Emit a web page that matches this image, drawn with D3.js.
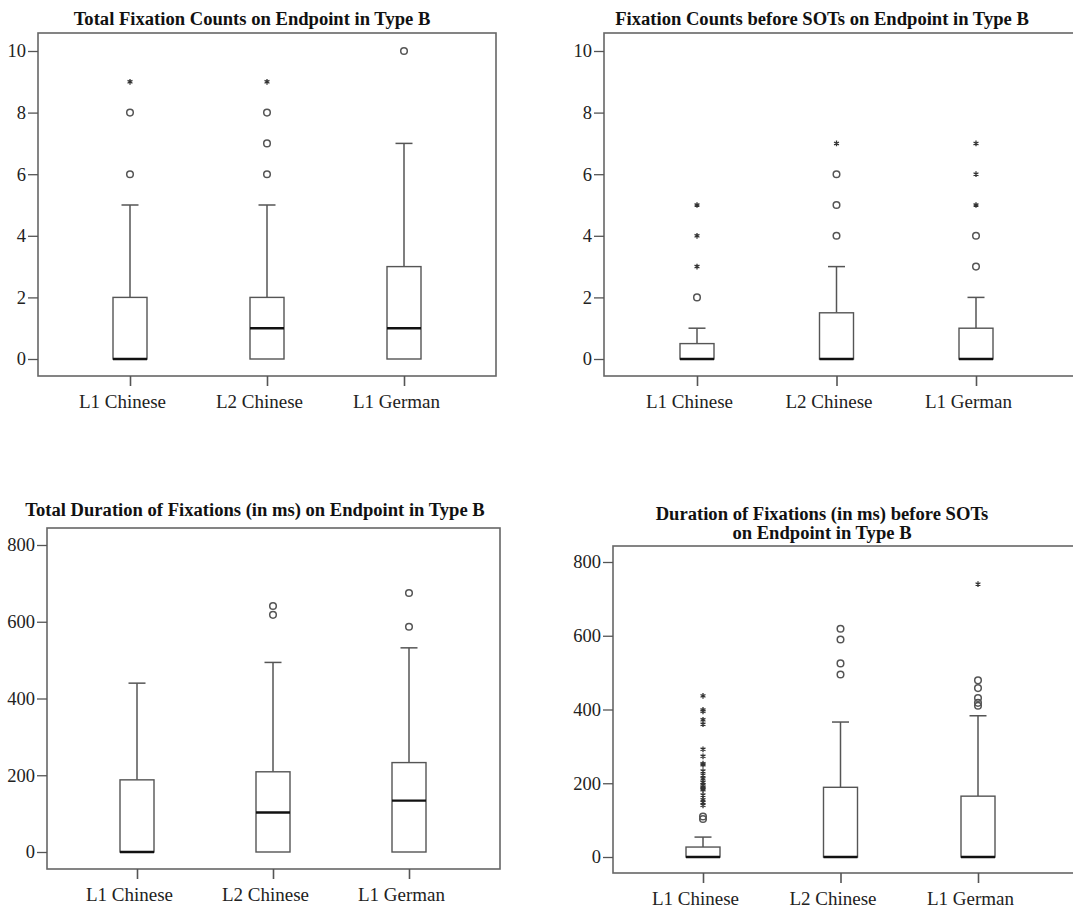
<!DOCTYPE html>
<html>
<head>
<meta charset="utf-8">
<script src="https://cdn.jsdelivr.net/npm/d3@7"></script>
<style>
  body { margin: 0; background: #fff; }
  svg { display: block; }
  text { font-family: "Liberation Serif", "Times New Roman", serif; }
</style>
</head>
<body>
<svg id="chart" width="1073" height="908"></svg>
<script>
// groups shown in every panel
const groups = ["L1 Chinese", "L2 Chinese", "L1 German"];

// box stats per group: [lowWhisker, q1, median, q3, highWhisker]
const totalCountBoxes = [[0, 0, 0, 2, 5], [0, 0, 1, 2, 5], [0, 0, 1, 3, 7]];
const totalCountCircles = [[6, 8], [6, 7, 8], [10]];
const totalCountStars = [[9], [9], []];

const sotCountBoxes = [[0, 0, 0, 0.5, 1], [0, 0, 0, 1.5, 3], [0, 0, 0, 1, 2]];
const sotCountCircles = [[2], [4, 5, 6], [3, 4]];
const sotCountStars = [[3, 4, 5], [7], [5, 6, 7]];

const totalDurBoxes = [[0, 0, 0, 188, 440], [0, 0, 103, 209, 494], [0, 0, 134, 233, 532]];
const totalDurCircles = [[], [618, 641], [587, 675]];
const totalDurStars = [[], [], []];

const sotDurBoxes = [[0, 0, 0, 27, 54], [0, 0, 0, 189, 366], [0, 0, 0, 165, 383]];
const sotDurCircles = [[103, 110], [495, 525, 590, 619], [410, 418, 431, 458, 479]];
const sotDurStars = [[140, 148, 155, 168, 182, 185, 190, 195, 202, 212, 222, 233, 250, 253, 273, 292, 360, 372, 395, 399, 437], [], [740]];

const countTicks = [0, 2, 4, 6, 8, 10];
const durTicks = [0, 200, 400, 600, 800];

const svg = d3.select("#chart");
const lineCol = "#555";

function drawPanel(p) {
    const g = svg.append("g");

    const y = d3.scaleLinear().domain(p.yDomain).range(p.yRange);
    const x = d3.scalePoint().domain(groups).range(p.xRange);

    // frame
    g.append("rect")
        .attr("x", p.frame[0]).attr("y", p.frame[1])
        .attr("width", p.frame[2] - p.frame[0])
        .attr("height", p.frame[3] - p.frame[1])
        .attr("fill", "none")
        .attr("stroke", "#666")
        .attr("stroke-width", 1.6);

    // axes
    const yAx = g.append("g")
        .attr("transform", `translate(${p.frame[0]},0)`)
        .call(d3.axisLeft(y).tickValues(p.ticks).tickSize(10).tickPadding(2).tickSizeOuter(0));
    yAx.select(".domain").remove();
    yAx.selectAll("line").attr("stroke", lineCol).attr("stroke-width", 1.3);
    yAx.selectAll("text").attr("font-size", 18.5).attr("fill", "#222")
        .attr("font-family", "Liberation Serif");

    const xAx = g.append("g")
        .attr("transform", `translate(0,${p.frame[3]})`)
        .call(d3.axisBottom(x).tickSize(10).tickPadding(9).tickSizeOuter(0));
    xAx.select(".domain").remove();
    xAx.selectAll("line").attr("stroke", lineCol).attr("stroke-width", 1.6);
    xAx.selectAll("text").attr("font-size", 19).attr("fill", "#222")
        .attr("dx", -8)
        .attr("font-family", "Liberation Serif");

    // boxes
    const bw = 34;
    p.boxes.forEach((b, i) => {
        const cx = x(groups[i]);
        const bg = g.append("g");
        // whiskers
        bg.append("line")
            .attr("x1", cx).attr("x2", cx)
            .attr("y1", y(b[3])).attr("y2", y(b[4]))
            .attr("stroke", lineCol).attr("stroke-width", 1.5);
        bg.append("line")
            .attr("x1", cx - bw / 4).attr("x2", cx + bw / 4)
            .attr("y1", y(b[4])).attr("y2", y(b[4]))
            .attr("stroke", lineCol).attr("stroke-width", 1.5);
        if (b[0] < b[1]) {
            bg.append("line")
                .attr("x1", cx).attr("x2", cx)
                .attr("y1", y(b[1])).attr("y2", y(b[0]))
                .attr("stroke", lineCol).attr("stroke-width", 1.5);
        }
        bg.append("rect")
            .attr("x", cx - bw / 2).attr("y", y(b[3]))
            .attr("width", bw).attr("height", Math.max(0, y(b[1]) - y(b[3])))
            .attr("fill", "#fff")
            .attr("stroke", lineCol).attr("stroke-width", 1.4);
        bg.append("line")
            .attr("x1", cx - bw / 2).attr("x2", cx + bw / 2)
            .attr("y1", y(b[2])).attr("y2", y(b[2]))
            .attr("stroke", "#111").attr("stroke-width", 2.4);

        // outliers
        bg.selectAll("circle.out")
            .data(p.circles[i])
            .join("circle")
            .attr("cx", cx).attr("cy", d => y(d))
            .attr("r", 3.3)
            .attr("fill", "none")
            .attr("stroke", "#555")
            .attr("stroke-width", 1.5);
        bg.selectAll("path.star")
            .data(p.stars[i])
            .join("path")
            .attr("transform", d => `translate(${cx},${y(d)})`)
            .attr("d", d3.symbol(d3.symbolAsterisk).size(22))
            .attr("fill", "none")
            .attr("stroke", "#333")
            .attr("stroke-width", 1.3);
    });

    // title
    const t = g.append("text")
        .attr("text-anchor", "middle")
        .attr("font-weight", "bold")
        .attr("font-size", 18.6)
        .attr("fill", "#111");
    p.title.forEach((line, k) => {
        t.append("tspan")
            .attr("x", p.titlePos[0])
            .attr("y", p.titlePos[1] + k * 19)
            .text(line);
    });
}

drawPanel({
    frame: [38, 33, 496, 376],
    yDomain: [0, 10], yRange: [359, 51],
    xRange: [130, 404],
    ticks: countTicks,
    boxes: totalCountBoxes, circles: totalCountCircles, stars: totalCountStars,
    title: ["Total Fixation Counts on Endpoint in Type B"],
    titlePos: [252, 25]
});

drawPanel({
    frame: [604, 33, 1080, 376],
    yDomain: [0, 10], yRange: [359, 51],
    xRange: [697, 976],
    ticks: countTicks,
    boxes: sotCountBoxes, circles: sotCountCircles, stars: sotCountStars,
    title: ["Fixation Counts before SOTs on Endpoint in Type B"],
    titlePos: [822, 25]
});

drawPanel({
    frame: [47, 528, 500, 869],
    yDomain: [0, 800], yRange: [852, 545],
    xRange: [137, 409],
    ticks: durTicks,
    boxes: totalDurBoxes, circles: totalDurCircles, stars: totalDurStars,
    title: ["Total Duration of Fixations (in ms) on Endpoint in Type B"],
    titlePos: [255, 516]
});

drawPanel({
    frame: [613, 546, 1080, 873],
    yDomain: [0, 800], yRange: [857, 562],
    xRange: [703, 978],
    ticks: durTicks,
    boxes: sotDurBoxes, circles: sotDurCircles, stars: sotDurStars,
    title: ["Duration of Fixations (in ms) before SOTs", "on Endpoint in Type B"],
    titlePos: [822, 520]
});
</script>
</body>
</html>
